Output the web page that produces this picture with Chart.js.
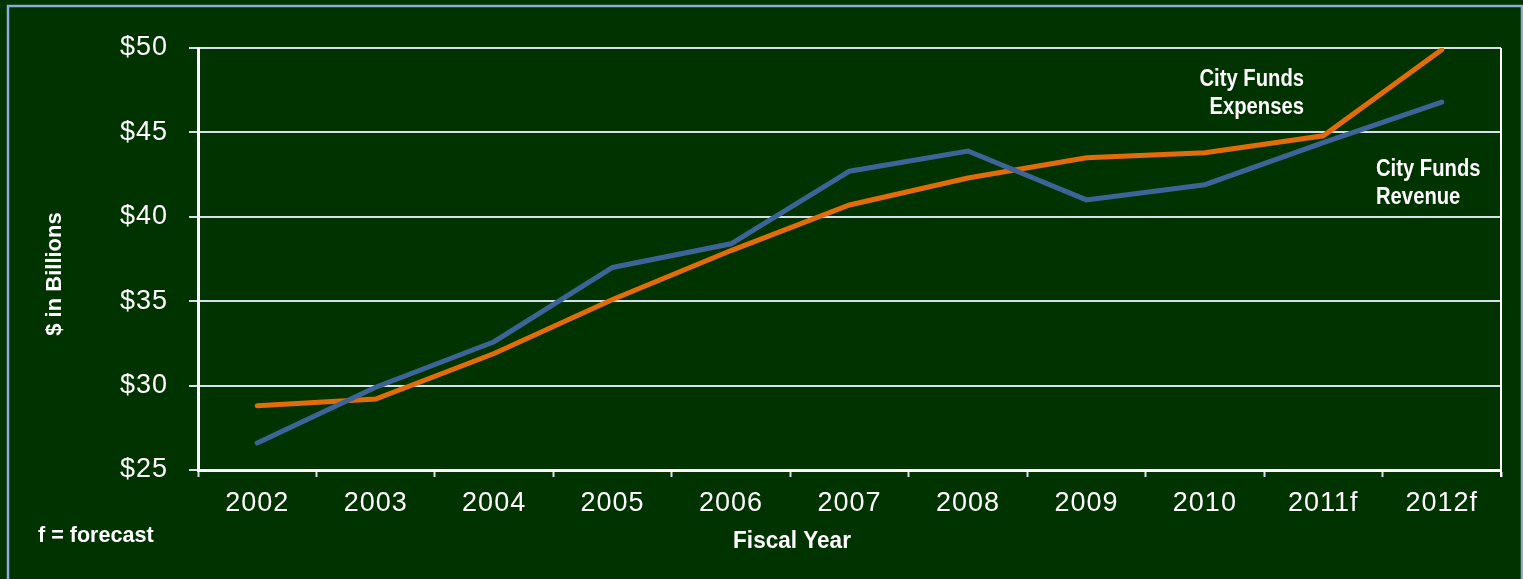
<!DOCTYPE html>
<html>
<head>
<meta charset="utf-8">
<script src="https://cdn.jsdelivr.net/npm/chart.js@4/dist/chart.umd.min.js"></script>
<style>
  html, body { margin: 0; padding: 0; background: #003300; }
  #wrap { width: 1523px; height: 579px; position: relative; }
</style>
</head>
<body>
<div id="wrap"><canvas id="c"></canvas></div>
<script>
const categories = ['2002','2003','2004','2005','2006','2007','2008','2009','2010','2011f','2012f'];
const revenue  = [26.6, 29.9, 32.6, 37.0, 38.4, 42.7, 43.9, 41.0, 41.9, 44.4, 46.8];
const expenses = [28.8, 29.2, 31.9, 35.1, 38.0, 40.7, 42.3, 43.5, 43.8, 44.8, 49.9];
const yTicks = [25, 30, 35, 40, 45, 50];
const seriesNames = ['City Funds Revenue', 'City Funds Expenses'];

const BG = '#003300';
const GRID = '#d6e0ec';
const FRAME = '#8eaad8';
const TICK_FONT = "'Liberation Sans', Arial, sans-serif";
const LABEL_FONT = "'Liberation Sans', Arial, sans-serif";

function condensedText(ctx, text, x, y, align, sx) {
  ctx.save();
  ctx.translate(x, y);
  ctx.scale(sx, 1);
  ctx.textAlign = align;
  ctx.fillText(text, 0, 0);
  ctx.restore();
}

const decor = {
  id: 'decor',
  beforeDraw(chart) {
    const ctx = chart.ctx;
    ctx.save();
    ctx.fillStyle = BG;
    ctx.fillRect(0, 0, chart.width, chart.height);
    ctx.strokeStyle = FRAME;
    ctx.lineWidth = 2.5;
    ctx.strokeRect(8, 6, 1514, 640);
    ctx.restore();
    if ('letterSpacing' in ctx) ctx.letterSpacing = '1px';
  },
  afterDraw(chart) {
    const ctx = chart.ctx;
    const a = chart.chartArea;
    if ('letterSpacing' in ctx) ctx.letterSpacing = '0px';
    ctx.save();
    ctx.strokeStyle = '#ffffff';
    ctx.lineWidth = 2;
    ctx.beginPath();
    ctx.moveTo(a.right, a.top);
    ctx.lineTo(a.right, a.bottom + 7);
    ctx.stroke();

    ctx.fillStyle = '#ffffff';
    ctx.textBaseline = 'middle';
    ctx.font = "bold 23px " + LABEL_FONT;
    condensedText(ctx, 'City Funds', 1304, 80, 'right', 0.88);
    condensedText(ctx, 'Expenses', 1304, 108, 'right', 0.88);
    condensedText(ctx, 'City Funds', 1376, 170, 'left', 0.88);
    condensedText(ctx, 'Revenue', 1376, 198, 'left', 0.88);

    ctx.font = "bold 23px " + LABEL_FONT;
    condensedText(ctx, 'Fiscal Year', 792, 542, 'center', 0.98);

    ctx.font = "bold 22px " + LABEL_FONT;
    condensedText(ctx, 'f = forecast', 38, 536, 'left', 0.98);

    ctx.translate(55, 274);
    ctx.rotate(-Math.PI / 2);
    ctx.font = "bold 22px " + LABEL_FONT;
    condensedText(ctx, '$ in Billions', 0, 0, 'center', 1.0);
    ctx.restore();
  }
};

new Chart(document.getElementById('c'), {
  type: 'line',
  data: {
    labels: categories,
    datasets: [
      {
        label: seriesNames[0],
        data: revenue,
        borderColor: '#3d6499',
        borderWidth: 5,
        pointRadius: 0,
        borderCapStyle: 'round',
        tension: 0
      },
      {
        label: seriesNames[1],
        data: expenses,
        borderColor: '#e36c0a',
        borderWidth: 5,
        pointRadius: 0,
        borderCapStyle: 'round',
        tension: 0
      }
    ]
  },
  options: {
    responsive: true,
    maintainAspectRatio: false,
    animation: false,
    layout: { padding: { left: 0, top: 48, right: 22, bottom: 0 } },
    plugins: {
      legend: { display: false },
      tooltip: { enabled: false }
    },
    scales: {
      x: {
        offset: true,
        afterFit(scale) { scale.height = 109; },
        grid: {
          offset: true,
          drawOnChartArea: false,
          drawTicks: true,
          tickLength: 7,
          tickColor: GRID,
          tickWidth: 2
        },
        border: { color: '#ffffff', width: 3 },
        ticks: {
          color: '#ffffff',
          font: { family: TICK_FONT, size: 27 },
          padding: 10,
          maxRotation: 0
        }
      },
      y: {
        min: 25,
        max: 50,
        afterFit(scale) { scale.width = 198; },
        afterBuildTicks(scale) { scale.ticks = yTicks.map(v => ({ value: v })); },
        grid: {
          color: GRID,
          lineWidth: 2,
          drawTicks: true,
          tickLength: 9,
          tickColor: GRID
        },
        border: { color: '#ffffff', width: 3 },
        ticks: {
          color: '#ffffff',
          font: { family: TICK_FONT, size: 27 },
          padding: 21,
          callback: v => '$' + v
        }
      }
    }
  },
  plugins: [decor]
});
</script>
</body>
</html>
